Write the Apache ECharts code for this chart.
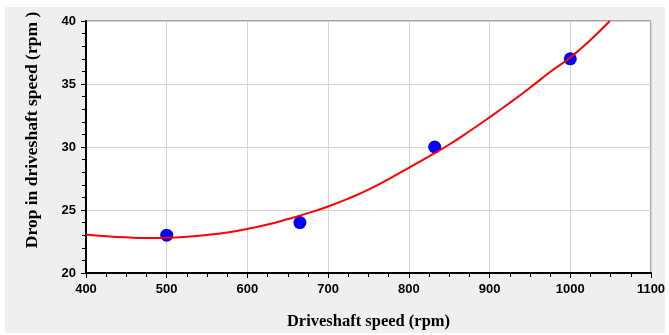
<!DOCTYPE html>
<html><head><meta charset="utf-8">
<script src="https://cdn.jsdelivr.net/npm/echarts@6/dist/echarts.min.js"></script>
<style>html,body{margin:0;padding:0;background:#fff}#c{width:669px;height:335px}</style>
</head><body><div id="c"></div>
<script>
var pointX = [500, 665, 832, 1000];
var pointY = [23, 24, 30, 37];
var fitX = [400,425,450,475,500,525,550,575,600,625,650,675,700,725,750,775,800,825,850,875,900,925,950,975,1000,1025,1049];
var fitY = [23.05,22.92,22.83,22.78,22.8,22.88,23.02,23.22,23.5,23.85,24.28,24.75,25.28,25.9,26.62,27.45,28.35,29.25,30.2,31.25,32.35,33.5,34.7,35.95,37.1,38.5,40.0];
var xTitle = 'Driveshaft speed (rpm)';
var yTitle = 'Drop in driveshaft speed (rpm )';

var chart = echarts.init(document.getElementById('c'), null, {renderer:'canvas'});
var pts = pointX.map(function(x,i){return [x, pointY[i]];});
var fit = fitX.map(function(x,i){return [x, fitY[i]];});
function lbl(){return {color:'#000', fontFamily:'"Liberation Sans", Arial, sans-serif', fontWeight:'bold', fontSize:13, margin:10, formatter:function(v){return String(v);}};}
chart.setOption({
  animation:false,
  backgroundColor:'#fff',
  graphic:[
    {type:'rect', z:-10, shape:{x:5,y:7,width:660,height:326}, style:{fill:'#efefef'}},
    {type:'text', x:32, y:130, rotation:Math.PI/2, style:{text:yTitle, align:'center', verticalAlign:'middle', fill:'#000',
      font:'bold 17.5px "Liberation Serif", "Times New Roman", serif'}}
  ],
  grid:{left:86, top:21, right:18, bottom:60, show:true, backgroundColor:'#fff', borderColor:'#555', borderWidth:1},
  xAxis:{type:'value', min:400, max:1100, interval:100,
    name:xTitle, nameLocation:'middle', nameGap:40,
    nameTextStyle:{fontFamily:'"Liberation Serif", "Times New Roman", serif', fontWeight:'bold', fontSize:16.5, color:'#000'},
    axisLine:{show:true, onZero:false, lineStyle:{color:'#000', width:2}},
    axisTick:{show:true, inside:false, length:5, lineStyle:{color:'#000'}},
    minorTick:{show:true, splitNumber:4, length:4, lineStyle:{color:'#000'}},
    axisLabel:lbl(),
    splitLine:{show:true, lineStyle:{color:'#d3d3d3', width:1}}},
  yAxis:{type:'value', min:20, max:40, interval:5,
    axisLine:{show:true, onZero:false, lineStyle:{color:'#000', width:2}},
    axisTick:{show:true, inside:false, length:5, lineStyle:{color:'#000'}},
    minorTick:{show:true, splitNumber:5, length:4, lineStyle:{color:'#000'}},
    axisLabel:lbl(),
    splitLine:{show:true, lineStyle:{color:'#d3d3d3', width:1}}},
  series:[
    {type:'line', data:fit, showSymbol:false, smooth:true, lineStyle:{color:'#ff0000', width:2}, z:3},
    {type:'scatter', data:pts, symbol:'circle', symbolSize:13, itemStyle:{color:'#0000ff', opacity:1}, z:2}
  ]
});
</script></body></html>
